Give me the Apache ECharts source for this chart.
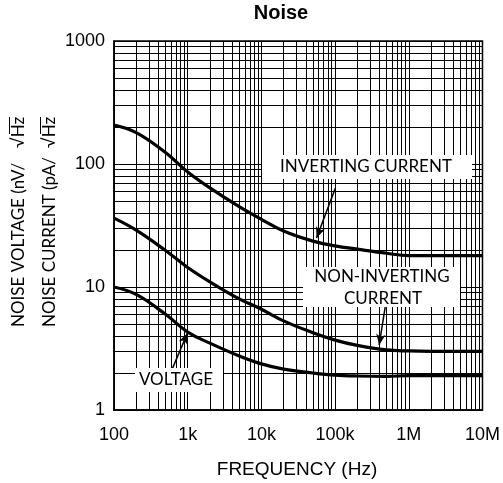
<!DOCTYPE html>
<html>
<head>
<meta charset="utf-8">
<script src="https://cdn.jsdelivr.net/npm/echarts@6/dist/echarts.min.js"></script>
<style>html,body{margin:0;padding:0;background:#fff}#c{width:503px;height:483px}</style>
</head>
<body>
<div id="c"></div>
<script>
const freqs = [100,200,500,1e3,2e3,5e3,1e4,2e4,5e4,1e5,2e5,5e5,1e6,2e6,5e6,1e7];
const invertingCurrent = [207,180,124,86,64,45,35.5,28.5,23.6,21.6,20.3,18.8,18,18,18,18];
const nonInvertingCurrent = [36.3,29,19.8,14.4,11,8.0,6.6,5.3,4.25,3.7,3.35,3.08,3.02,3.0,3.0,3.0];
const voltage = [10,8.7,6.0,4.3,3.5,2.75,2.37,2.15,2.0,1.92,1.89,1.88,1.9,1.9,1.9,1.9];
const xTickLabels = ['100','1k','10k','100k','1M','10M'];
const yTickLabels = ['1','10','100','1000'];
const titleText = 'Noise';
const xAxisName = 'FREQUENCY (Hz)';
const yNameVoltage = 'NOISE VOLTAGE (nV/';
const yNameCurrent = 'NOISE CURRENT (pA/';
const sqrtHz = '\u221AHz';
// annotation arrows: [tail, head] in data coordinates
const arrowInverting = [[1.01e5, 63.8], [5.6e4, 25.0]];
const arrowNonInverting = [[4.78e5, 6.87], [3.96e5, 3.37]];
const arrowVoltage = [[624, 2.19], [993, 4.23]];

const chart = echarts.init(document.getElementById('c'), null, {renderer:'canvas'});

function gridValues(lo, hi) {
  const out = [];
  for (let d = lo; d < hi; d *= 10) {
    for (let m = 1; m <= 9; m++) out.push(d * m);
  }
  out.push(hi);
  return out;
}
const xGrid = gridValues(100, 1e7);
const yGrid = gridValues(1, 1000);
const gridLines = xGrid.map(v => ({xAxis: v})).concat(yGrid.map(v => ({yAxis: v})));

function pairs(ys) { return freqs.map((f, i) => [f, ys[i]]); }
function curve(name, ys) {
  return {
    name, type: 'line', data: pairs(ys), showSymbol: false, symbol: 'none',
    smooth: 0.4, z: 10, zlevel: 1,
    lineStyle: {color: '#000', width: 3.2}, silent: true
  };
}
function arrow(a) {
  return [{coord: a[0]}, {coord: a[1]}];
}

const fontA = 'Liberation Sans, Arial, sans-serif';
const fontC = 'Lato, Open Sans, sans-serif';

const option = {
  animation: false,
  backgroundColor: '#fff',
  grid: {left: 114, right: 18, top: 41, bottom: 73, show: true, borderColor: '#000', borderWidth: 1.5},
  xAxis: {
    type: 'log', logBase: 10, min: 100, max: 1e7, interval: 1,
    axisLine: {show: true, lineStyle: {color: '#000', width: 1.5}},
    axisTick: {show: false},
    splitLine: {show: false},
    axisLabel: {
      color: '#000', fontFamily: fontA, fontSize: 18, margin: 16,
      formatter: v => xTickLabels[Math.round(Math.log10(v)) - 2]
    }
  },
  yAxis: {
    type: 'log', logBase: 10, min: 1, max: 1000, interval: 1,
    axisLine: {show: true, lineStyle: {color: '#000', width: 1.5}},
    axisTick: {show: false},
    splitLine: {show: false},
    axisLabel: {
      color: '#000', fontFamily: fontA, fontSize: 18, margin: 9,
      formatter: v => yTickLabels[Math.round(Math.log10(v))]
    }
  },
  series: [
    {
      type: 'line', data: [[100, 1]], symbol: 'none', z: 1, silent: true,
      lineStyle: {width: 0},
      markLine: {
        z: 1,
        silent: true, symbol: ['none', 'none'], animation: false,
        label: {show: false},
        lineStyle: {color: '#000', width: 1, type: 'solid'},
        emphasis: {disabled: true},
        data: gridLines
      }
    },
    curve('Inverting current', invertingCurrent),
    curve('Non-inverting current', nonInvertingCurrent),
    curve('Voltage', voltage),
    {
      type: 'line', data: [[100, 1]], symbol: 'none', z: 12, zlevel: 1, silent: true,
      lineStyle: {width: 0},
      markLine: {
        z: 12,
        silent: true, symbol: ['none', 'arrow'], symbolSize: [7, 11], animation: false,
        label: {show: false},
        lineStyle: {color: '#000', width: 1.5, type: 'solid'},
        emphasis: {disabled: true},
        data: [arrow(arrowInverting), arrow(arrowNonInverting), arrow(arrowVoltage)]
      }
    }
  ],
  graphic: [
    {type: 'text', x: 281, y: 13, z: 100, style: {text: titleText, fontFamily: fontA, fontWeight: 'bold', fontSize: 20, fill: '#000', textAlign: 'center', textVerticalAlign: 'middle'}},
    {type: 'text', x: 297, y: 470, z: 100, style: {text: xAxisName, fontFamily: fontA, fontSize: 19, fill: '#000', textAlign: 'center', textVerticalAlign: 'middle'}},
    {type: 'text', x: 19, y: 327, rotation: Math.PI / 2, z: 100, style: {text: yNameVoltage, fontFamily: fontC, fontSize: 17, fill: '#000', textAlign: 'left', textVerticalAlign: 'middle'}},
    {type: 'text', x: 50, y: 327, rotation: Math.PI / 2, z: 100, style: {text: yNameCurrent, fontFamily: fontC, fontSize: 17, fill: '#000', textAlign: 'left', textVerticalAlign: 'middle'}},
    {type: 'text', x: 19, y: 148, rotation: Math.PI / 2, z: 100, style: {text: sqrtHz, fontFamily: fontC, fontSize: 17, fill: '#000', textAlign: 'left', textVerticalAlign: 'middle'}},
    {type: 'text', x: 50, y: 148, rotation: Math.PI / 2, z: 100, style: {text: sqrtHz, fontFamily: fontC, fontSize: 17, fill: '#000', textAlign: 'left', textVerticalAlign: 'middle'}},
    {type: 'line', z: 100, shape: {x1: 9.5, y1: 117, x2: 9.5, y2: 134}, style: {stroke: '#000', lineWidth: 1}},
    {type: 'line', z: 100, shape: {x1: 40.5, y1: 117, x2: 40.5, y2: 134}, style: {stroke: '#000', lineWidth: 1}},
    {type: 'rect', z: 90, shape: {x: 262, y: 155, width: 210, height: 24}, style: {fill: '#fff'}},
    {type: 'text', x: 366, y: 167, z: 100, style: {text: 'INVERTING CURRENT', fontFamily: fontC, fontSize: 17, fill: '#000', textAlign: 'center', textVerticalAlign: 'middle'}},
    {type: 'rect', z: 90, shape: {x: 303, y: 267, width: 157, height: 40}, style: {fill: '#fff'}},
    {type: 'text', x: 382, y: 277, z: 100, style: {text: 'NON-INVERTING', fontFamily: fontC, fontSize: 17, fill: '#000', textAlign: 'center', textVerticalAlign: 'middle'}},
    {type: 'text', x: 383, y: 299, z: 100, style: {text: 'CURRENT', fontFamily: fontC, fontSize: 17, fill: '#000', textAlign: 'center', textVerticalAlign: 'middle'}},
    {type: 'rect', z: 90, shape: {x: 135, y: 368, width: 88, height: 24}, style: {fill: '#fff'}},
    {type: 'text', x: 176, y: 380, z: 100, style: {text: 'VOLTAGE', fontFamily: fontC, fontSize: 17, fill: '#000', textAlign: 'center', textVerticalAlign: 'middle'}}
  ]
};
chart.setOption(option);
</script>
</body>
</html>
